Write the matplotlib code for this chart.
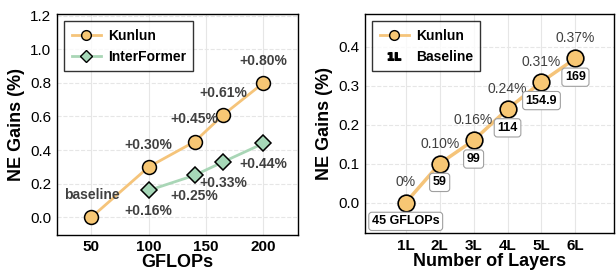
import matplotlib.pyplot as plt
from matplotlib.lines import Line2D

plt.rcParams['font.family'] = ['Liberation Sans', 'DejaVu Sans']

# left panel data
gflops_kunlun = [50, 100, 140, 165, 200]
gains_kunlun = [0.0, 0.30, 0.45, 0.61, 0.80]
labels_kunlun = ['baseline', '+0.30%', '+0.45%', '+0.61%', '+0.80%']
gflops_inter = [100, 140, 165, 200]
gains_inter = [0.16, 0.25, 0.33, 0.44]
labels_inter = ['+0.16%', '+0.25%', '+0.33%', '+0.44%']

# right panel data
layers = ['1L', '2L', '3L', '4L', '5L', '6L']
layer_gains = [0.0, 0.10, 0.16, 0.24, 0.31, 0.37]
layer_pct = ['0%', '0.10%', '0.16%', '0.24%', '0.31%', '0.37%']
layer_flops = ['45 GFLOPs', '59', '99', '114', '154.9', '169']

orange = '#F7C774'
orange_line = '#F5C47A'
green = '#A6D8B8'
green_line = '#A9D6B6'
txt = '#404040'

fig = plt.figure(figsize=(6.16, 2.7), dpi=100)
ax1 = fig.add_axes([0.0925, 0.130, 0.391, 0.818])
ax2 = fig.add_axes([0.5925, 0.137, 0.405, 0.811])

# ---- left
ax1.plot(gflops_kunlun, gains_kunlun, color=orange_line, lw=2, marker='o', ms=10,
         mfc=orange, mec='black', mew=1.1, zorder=3)
ax1.plot(gflops_inter, gains_inter, color=green_line, lw=2, marker='D', ms=8.5,
         mfc=green, mec='black', mew=1.1, zorder=3)
for x, y, s in zip(gflops_kunlun, gains_kunlun, labels_kunlun):
    ax1.annotate(s, (x, y), xytext=(0, 16), textcoords='offset points', ha='center',
                 va='center', fontsize=10, fontweight='bold', color=txt)
for x, y, s in zip(gflops_inter, gains_inter, labels_inter):
    ax1.annotate(s, (x, y), xytext=(0, -15), textcoords='offset points', ha='center',
                 va='center', fontsize=10, fontweight='bold', color=txt)
ax1.set_xlim(20, 230)
ax1.set_ylim(-0.105, 1.21)
ax1.set_xticks([50, 100, 150, 200])
ax1.set_yticks([0.0, 0.2, 0.4, 0.6, 0.8, 1.0, 1.2])
ax1.set_xlabel('GFLOPs', fontsize=13, fontweight='bold', labelpad=0)
ax1.set_ylabel('NE Gains (%)', fontsize=13, fontweight='bold', labelpad=4)
h1 = [Line2D([], [], color=orange_line, lw=2, marker='o', ms=7, mfc=orange,
             mec='black', mew=1),
      Line2D([], [], color=green_line, lw=2, marker='D', ms=6, mfc=green,
             mec='black', mew=1)]
leg = ax1.legend(h1, ['Kunlun', 'InterFormer'], loc='upper left', fancybox=False,
                 edgecolor='black', prop={'weight': 'bold', 'size': 10},
                 handlelength=2.1, handletextpad=0.5, borderpad=0.55,
                 labelspacing=0.5)
leg.get_frame().set_linewidth(1)

# ---- right
xpos = list(range(len(layers)))
ax2.plot(xpos, layer_gains, color=orange_line, lw=2.5, marker='o', ms=12,
         mfc=orange, mec='black', mew=1.2, zorder=3)
for x, y, s, f in zip(xpos, layer_gains, layer_pct, layer_flops):
    ax2.annotate(s, (x, y), xytext=(0, 14.5), textcoords='offset points', ha='center',
                 va='center', fontsize=10, color=txt)
    ax2.annotate(f, (x, y), xytext=(0, -13.5), textcoords='offset points', ha='center',
                 va='center', fontsize=9, fontweight='bold', color='black',
                 bbox=dict(boxstyle='round,pad=0.25', fc='white', ec='#a0a0a0', lw=0.8),
                 zorder=4)
ax2.set_xlim(-1.2, 6.15)
ax2.set_ylim(-0.078, 0.484)
ax2.set_xticks(xpos)
ax2.set_xticklabels(layers)
ax2.set_yticks([0.0, 0.1, 0.2, 0.3, 0.4])
ax2.set_xlabel('Number of Layers', fontsize=13, fontweight='bold', labelpad=0)
ax2.set_ylabel('NE Gains (%)', fontsize=13, fontweight='bold', labelpad=4)
h2 = [Line2D([], [], color=orange_line, lw=2, marker='o', ms=7, mfc=orange,
             mec='black', mew=1),
      Line2D([], [], ls='none', marker=r'$\mathbf{1L}$', ms=9, color='black')]
leg2 = ax2.legend(h2, ['Kunlun', 'Baseline'], loc='upper left', fancybox=False,
                  edgecolor='black', prop={'weight': 'bold', 'size': 10},
                  handlelength=2.1, handletextpad=0.5, borderpad=0.55,
                  labelspacing=0.5)
leg2.get_frame().set_linewidth(1)

for ax in (ax1, ax2):
    ax.grid(axis='x', color='#e6e6e6', lw=0.8)
    ax.grid(axis='y', color='#e6e6e6', lw=0.8, ls='--')
    ax.set_axisbelow(True)
    ax.tick_params(axis='y', labelsize=11, length=0, pad=4)
    ax.tick_params(axis='x', labelsize=11, length=0, pad=4)
    for t in ax.get_xticklabels():
        t.set_fontweight('bold')
    for sp in ax.spines.values():
        sp.set_linewidth(1)

fig.savefig('out.png', dpi=100)
